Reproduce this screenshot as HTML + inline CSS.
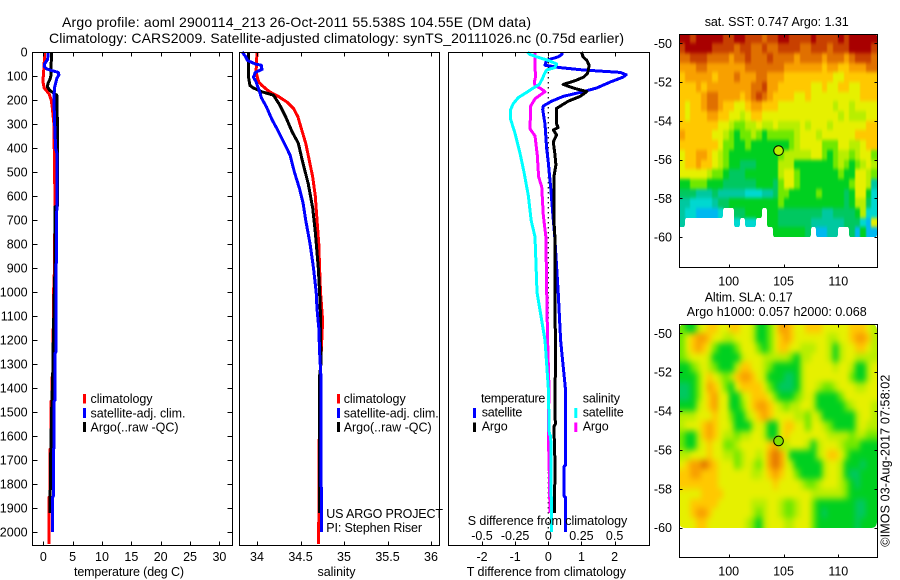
<!DOCTYPE html>
<html>
<head>
<meta charset="utf-8">
<title>Argo profile</title>
<style>
html,body{margin:0;padding:0;background:#fff}
svg{display:block}
text{font-family:"Liberation Sans",sans-serif;font-size:12.5px;fill:#000}
.t14{font-size:14px}
</style>
</head>
<body>
<svg id="chart" width="900" height="580" viewBox="0 0 900 580" xmlns="http://www.w3.org/2000/svg">
<defs>
<filter id="soft-sst" filterUnits="userSpaceOnUse" x="660" y="20" width="230" height="260" color-interpolation-filters="sRGB">
<feGaussianBlur stdDeviation="0.9 1.8"/>
<feComponentTransfer><feFuncA type="linear" slope="20" intercept="-9.5"/></feComponentTransfer>
</filter>
<filter id="soft-sla" filterUnits="userSpaceOnUse" x="660" y="310" width="230" height="240" color-interpolation-filters="sRGB">
<feGaussianBlur stdDeviation="2.6 3.2"/>
<feComponentTransfer><feFuncA type="linear" slope="20" intercept="-9.5"/></feComponentTransfer>
</filter>
<clipPath id="clip-sst"><rect x="679" y="34" width="198" height="233"/></clipPath>
<clipPath id="clip-sla"><rect x="679" y="324" width="198" height="233"/></clipPath>
</defs>
<rect width="900" height="580" fill="#fff"/>
<text class="t14" x="62" y="27" textLength="469">Argo profile: aoml 2900114_213 26-Oct-2011 55.538S 104.55E (DM data)</text>
<text class="t14" x="49" y="43" textLength="575">Climatology: CARS2009. Satellite-adjusted climatology: synTS_20111026.nc (0.75d earlier)</text>
<g id="marks"></g>

<text x="74" y="576" textLength="110">temperature (deg C)</text>
<text x="317.5" y="576" textLength="38">salinity</text>
<text x="466.7" y="576" textLength="159.3">T difference from climatology</text>
<text x="467.7" y="525" textLength="159.6">S difference from climatology</text>

<g>
<rect x="83" y="394" width="3" height="9.5" fill="#f00"/>
<text x="90.5" y="403" textLength="62">climatology</text>
<rect x="83" y="408" width="3" height="10" fill="#00f"/>
<text x="90.5" y="417.3" textLength="95">satellite-adj. clim.</text>
<rect x="83" y="422" width="3" height="10" fill="#000"/>
<text x="90.5" y="431.5" textLength="88">Argo(..raw -QC)</text>
</g>
<g>
<rect x="337" y="394" width="3" height="9.5" fill="#f00"/>
<text x="343.7" y="403" textLength="62">climatology</text>
<rect x="337" y="408" width="3" height="10" fill="#00f"/>
<text x="343.7" y="417.3" textLength="95">satellite-adj. clim.</text>
<rect x="337" y="422" width="3" height="10" fill="#000"/>
<text x="343.7" y="431.5" textLength="88">Argo(..raw -QC)</text>
</g>
<text x="326.3" y="518" textLength="116.7">US ARGO PROJECT</text>
<text x="326.3" y="532" textLength="95.7">PI: Stephen Riser</text>

<g>
<text x="481" y="402.7" textLength="64.3">temperature</text>
<text x="582.7" y="402.7" textLength="37.3">salinity</text>
<rect x="473" y="408" width="3" height="10" fill="#00f"/>
<text x="481.7" y="416.7" textLength="40.6">satellite</text>
<rect x="473" y="422.5" width="3" height="9.5" fill="#000"/>
<text x="481.7" y="430.7" textLength="26">Argo</text>
<rect x="574.3" y="408" width="3" height="10" fill="#0ff"/>
<text x="582.7" y="416.7" textLength="41">satellite</text>
<rect x="574.3" y="422.5" width="3" height="9.5" fill="#f0f"/>
<text x="582.7" y="430.7" textLength="26">Argo</text>
</g>

<text x="704.7" y="26" textLength="144">sat. SST: 0.747  Argo: 1.31</text>
<text x="704.7" y="301.7" textLength="88">Altim. SLA: 0.17</text>
<text x="686.7" y="316" textLength="180">Argo h1000: 0.057 h2000: 0.068</text>
<text transform="translate(889.5 546.7) rotate(-90)" x="0" y="0" textLength="172">©IMOS 03-Aug-2017 07:58:02</text>
</svg>

<script>
// ---------- profile data ----------
const depthTicks = [0,100,200,300,400,500,600,700,800,900,1000,1100,1200,1300,1400,1500,1600,1700,1800,1900,2000];
const tempTicks = [0,5,10,15,20,25,30];
const salTicks = [34,34.5,35,35.5,36];
const salTickLabels = ["34","34.5","35","35.5","36"];
const tDiffTicks = [-2,-1,0,1,2];
const sDiffTicks = [-0.5,-0.25,0,0.25,0.5];
const sDiffTickLabels = ["-0.5","-0.25","0","0.25","0.5"];

const tempClimDepth = [0,50,100,125,150,175,200,225,300,620,900,1000,1150,1155,1350,1355,1450,1455,1650,1655,1850,1855,2050];
const tempClim = [0.2,0.15,0,-0.05,0.15,1,1.35,1.5,1.8,2.0,1.9,1.76,1.76,1.65,1.65,1.48,1.48,1.3,1.3,1.14,1.14,0.97,0.97];
const tempArgoDepth = [0,100,115,130,145,160,180,300,400,640,645,900,1000,1200,1350,1500,1700,1920];
const tempArgo = [1.4,1.3,1.1,0.8,0.7,1.1,2.3,2.4,2.4,2.4,2.0,2.0,1.87,1.7,1.6,1.42,1.25,1.14];
const tempSatDepth = [0,30,50,60,70,75,85,95,110,150,190,280,400,420,640,800,1000,1250,1255,1450,1455,1650,1655,1850,1855,2000];
const tempSat = [0.8,0.75,0.2,0.15,0.55,1.1,2.55,2.65,2.3,1.9,1.8,1.9,2.1,2.3,2.3,2.25,2.15,2.15,2,2,1.8,1.8,1.7,1.7,1.55,1.55];

const salClimDepth = [0,80,100,125,140,165,185,210,235,270,320,380,450,520,600,700,800,900,1000,1100,1150,1400,1650,1700,1950,2050];
const salClim = [34,33.99,34,34.02,34.06,34.14,34.245,34.35,34.42,34.47,34.51,34.56,34.6,34.64,34.67,34.69,34.71,34.72,34.73,34.75,34.75,34.72,34.715,34.71,34.71,34.705];
const salArgoDepth = [0,50,100,140,150,165,180,220,270,330,380,450,550,650,750,900,1000,1100,1300,1350,1920];
const salArgo = [33.9,33.9,33.9,33.92,33.96,34.05,34.19,34.26,34.33,34.4,34.475,34.52,34.59,34.64,34.67,34.705,34.72,34.73,34.735,34.72,34.72];
const salSatDepth = [0,20,35,50,55,65,72,85,105,125,165,190,230,280,320,370,430,500,570,630,700,800,900,1000,1070,1150,1250,1350,2000];
const salSat = [33.83,33.87,33.89,33.98,34.05,34.05,34.06,33.98,33.96,33.99,34.03,34.05,34.11,34.17,34.23,34.3,34.38,34.43,34.49,34.53,34.56,34.61,34.65,34.68,34.69,34.71,34.72,34.735,34.74];

const diffTSatDepth = [0,10,20,35,55,65,75,85,95,105,125,150,165,185,205,225,240,300,400,460,560,700,760,1000,1200,1415,1720,1725,1850,1855,2000];
const diffTSat = [0.42,0.41,0.3,-0.05,-0.1,0.35,1.06,2.17,2.35,2.25,1.87,1.46,1.06,0.45,0.1,-0.15,-0.17,-0.1,-0.05,0,0.07,0.15,0.19,0.3,0.37,0.525,0.525,0.48,0.48,0.525,0.525];
const diffTArgoDepth = [0,20,35,55,75,90,105,120,135,150,165,185,205,235,300,315,325,345,375,425,470,520,700,770,1000,1300,1415,1550,1560,1700,1920];
const diffTArgo = [1.0,1.05,1.16,1.23,1.21,1.18,1.06,0.8,0.45,0.75,1.16,0.96,0.6,0.25,0.25,0.3,0.15,0.25,0.15,0.2,0.23,0.17,0.17,0.2,0.2,0.22,0.2,0.21,0.17,0.2,0.19];
const diffSArgoDepth = [0,70,100,125,140,150,165,180,195,225,320,350,430,520,560,680,770,1000,1200,1400,1590,1800,1920];
const diffSArgo = [-0.1,-0.1,-0.095,-0.105,-0.1,-0.063,-0.025,-0.063,-0.1,-0.133,-0.138,-0.1,-0.083,-0.073,-0.05,-0.038,-0.018,-0.012,-0.005,0.005,0,0.01,0.012];
const diffSSatDepth = [0,10,20,35,50,65,75,95,110,135,150,170,190,215,240,280,340,420,500,600,700,770,1000,1200,1400,1590,1600,1700,1850,1855,2000];
const diffSSat = [-0.156,-0.14,-0.088,0,0.063,0.05,-0.013,-0.033,-0.043,-0.068,-0.113,-0.168,-0.226,-0.264,-0.284,-0.284,-0.25,-0.214,-0.183,-0.15,-0.13,-0.1,-0.085,-0.025,0,0.0075,0.018,0.02,0.02,0.025,0.025];

// ---------- map data (colour levels, null = no data) ----------
const n = null;
const lonTicks = [100,105,110];
const latTicks = [50,52,54,56,58,60];
const profileLon = 104.55;
const profileLat = 55.538;
const sstLevels = [
[12,12,11,12,12,12,12,12,11,11,12,12,11,11,11,10,11,11,12,12,11,11,11,11,12,11,11,11,11,12,11,12,12,12,12,12],
[11,12,12,12,12,12,11,11,11,11,10,11,11,10,10,11,10,10,11,11,11,11,10,10,11,11,11,10,11,11,11,12,12,12,12,11],
[10,10,11,11,11,10,10,10,10,9,10,10,11,10,10,10,11,10,10,10,10,9,10,10,10,10,9,10,10,10,9,10,11,11,11,10],
[9,9,9,10,10,9,9,9,9,9,9,9,10,10,10,10,10,10,10,9,9,9,9,9,9,9,8,9,9,8,8,9,9,9,10,10],
[8,9,9,9,9,9,8,9,9,9,10,9,9,9,10,10,9,9,9,8,8,8,8,8,8,8,8,8,7,7,8,8,8,8,8,8],
[8,8,8,9,8,9,9,9,9,9,9,9,9,10,10,11,9,9,8,8,8,8,8,8,7,7,8,7,7,8,8,7,7,8,8,8],
[8,8,8,8,9,10,10,9,9,9,9,8,9,10,11,10,9,8,8,8,8,7,7,8,7,7,7,7,7,7,7,7,7,8,8,8],
[8,7,8,8,9,10,10,9,8,8,7,7,8,9,9,8,8,8,7,7,7,7,7,7,7,7,7,7,6,7,7,6,7,7,7,7],
[8,7,8,8,8,9,9,8,8,7,7,6,7,8,8,7,7,7,7,7,7,7,7,7,7,7,7,7,7,6,7,6,6,6,7,7],
[8,8,8,8,8,8,8,7,7,6,5,5,6,6,7,6,6,7,6,6,6,6,7,6,7,7,7,6,7,7,7,7,7,7,8,8],
[9,8,8,8,8,8,7,7,6,5,4,5,5,6,5,4,5,5,5,5,5,6,7,7,7,6,7,7,7,7,7,7,8,8,8,8],
[8,8,8,8,8,8,8,7,5,5,4,4,5,4,4,4,4,4,4,4,5,6,7,7,7,7,5,5,5,7,7,6,6,7,8,8],
[7,8,8,9,9,8,7,6,5,4,4,4,4,4,4,4,4,4,5,6,6,6,6,6,7,7,5,4,5,6,6,5,6,7,7,5],
[7,8,8,9,8,8,7,6,5,4,4,3,3,3,4,4,4,4,6,6,6,4,4,4,4,4,4,4,5,6,5,4,5,6,7,6],
[7,7,7,7,7,6,5,5,4,3,3,3,4,4,4,4,4,4,6,7,7,5,4,4,4,4,4,4,4,5,4,4,7,7,6,5],
[4,4,5,5,5,4,4,4,3,3,3,3,3,3,4,4,4,3,5,7,7,5,4,4,4,4,4,4,4,4,4,5,7,7,6,2],
[3,3,3,2,2,2,3,2,2,2,2,2,1,1,1,2,2,3,5,5,4,4,4,4,4,5,4,4,4,4,3,4,7,7,4,1],
[2,2,1,1,1,1,2,3,3,4,4,4,4,4,4,4,4,4,5,4,4,4,4,4,4,4,4,4,4,4,3,4,6,6,3,1],
[2,1,1,0,0,0,0,1,n,n,3,3,4,4,4,n,4,4,3,3,3,3,3,3,3,3,2,2,3,3,3,3,4,6,1,1],
[2,n,n,n,n,n,n,n,n,n,1,n,1,1,n,n,4,4,3,3,3,3,3,3,2,2,2,2,2,2,3,3,3,1,0,7],
[n,n,n,n,n,n,n,n,n,n,n,n,n,n,n,n,n,4,4,4,4,4,4,3,n,0,0,2,2,n,n,3,0,4,0,0]
];
const slaLevels = [
[5,4,4,6,7,8,8,7,7,8,8,7,7,6,4,4,5,7,9,9,8,7,7,8,8,8,7,7,7,7,7,8,8,8,7,6],
[5,7,8,9,9,8,7,7,6,6,7,7,7,6,4,4,5,7,8,9,8,7,7,7,7,7,7,6,6,7,7,8,9,9,8,6],
[5,7,8,9,8,7,5,4,4,4,5,7,7,7,5,4,5,7,8,8,7,7,6,6,6,7,7,6,4,6,7,7,8,8,7,6],
[5,6,7,7,7,6,4,4,4,4,4,6,7,7,7,6,6,6,6,6,5,4,6,6,7,7,7,6,4,6,7,7,6,6,6,6],
[4,4,5,6,7,6,5,4,4,4,6,8,8,7,7,6,5,4,4,4,4,4,6,7,7,7,7,7,6,7,7,6,4,4,6,7],
[4,4,4,5,7,8,7,6,5,6,8,9,9,8,7,6,4,4,4,3,3,4,6,7,7,7,7,7,7,7,7,5,4,4,6,7],
[3,3,4,5,7,9,8,7,5,4,7,8,8,8,8,7,5,4,3,3,3,4,6,7,7,6,5,5,6,7,7,7,6,6,7,7],
[3,3,4,5,7,8,9,7,7,4,4,6,7,8,8,8,7,5,4,4,4,5,6,7,6,4,4,4,4,5,7,7,7,7,7,7],
[4,4,4,6,7,8,9,7,7,4,4,5,7,8,9,9,8,7,6,5,6,6,7,7,6,4,4,4,4,4,5,6,7,7,7,6],
[6,6,6,7,7,7,8,7,7,5,4,4,6,7,8,9,8,7,7,7,7,6,6,5,7,6,4,4,4,4,4,4,6,7,7,6],
[6,7,7,7,8,9,8,7,7,6,4,4,4,6,7,6,4,4,7,8,8,7,7,5,7,7,6,5,4,4,4,4,6,7,6,6],
[5,4,4,6,8,9,8,7,6,6,5,6,6,7,7,6,4,4,7,8,7,7,7,7,7,7,7,6,6,6,6,5,6,6,5,5],
[5,4,4,6,7,8,7,7,5,5,6,7,7,7,7,7,8,9,6,6,7,7,7,6,4,6,7,7,7,6,5,5,5,4,4,4],
[6,6,7,7,7,8,7,7,6,6,5,6,7,7,6,7,9,10,9,7,4,4,4,4,4,6,7,8,8,7,5,4,4,4,4,4],
[7,8,9,9,10,9,8,7,7,7,5,6,7,6,5,7,9,10,9,7,6,4,4,4,4,4,6,7,7,6,4,4,4,3,4,4],
[8,8,9,9,8,8,8,7,7,7,7,7,7,6,6,7,8,9,8,7,7,5,4,4,4,4,6,7,7,6,4,3,3,4,4,4],
[8,8,8,8,8,8,8,7,7,7,7,7,7,7,7,7,7,8,7,7,7,7,6,5,5,6,7,7,7,6,5,4,3,4,4,4],
[7,7,7,7,8,8,8,8,7,7,7,7,7,7,7,7,7,7,7,7,7,7,7,7,6,6,6,6,6,6,5,4,4,4,4,4],
[7,7,8,8,8,8,8,7,7,7,7,7,7,6,6,6,7,7,6,5,5,6,7,7,5,4,4,4,4,4,4,4,3,3,4,4],
[7,7,8,9,9,8,7,7,7,7,7,7,7,6,5,6,7,7,6,5,5,6,7,7,5,4,3,4,4,4,4,4,3,3,4,4],
[7,7,7,8,8,7,7,7,7,7,7,7,6,5,4,6,7,7,7,6,6,7,7,7,5,4,4,4,4,4,4,4,3,4,4,4]
];

// ---------- colour scale & axis functions ----------
const levelColors = ["#00b8f0","#00d8d0","#00c8a0","#00c860","#00d020","#70e800","#b8ee00","#e6f000","#ffc800","#f8a000","#e07000","#c84000","#a80000"];
const PANEL_TOP = 52, PANEL_BOTTOM = 545;
const yDepth = d => 52 + 0.2401 * d;
const xTemp = v => 43.3 + 5.87 * v;
const xSal = v => 257 + 87 * (v - 34);
const xTDiff = v => 548.3 + 33.15 * v;
const xSDiff = v => 548.3 + 132.6 * v;
const xLon = v => 728.7 + 10.96 * (v - 100);
const ySstLat = v => 43.3 + 19.37 * (v - 50);
const ySlaLat = v => 333.3 + 19.44 * (v - 50);

const NS = "http://www.w3.org/2000/svg";
const marks = document.getElementById("marks");
function make(tag, attrs, parent) {
  const el = document.createElementNS(NS, tag);
  for (const k in attrs) el.setAttribute(k, attrs[k]);
  (parent || marks).appendChild(el);
  return el;
}
function rule(x1, y1, x2, y2, name, parent) {
  const el = make("line", {x1: Math.round(x1) + 0.5, y1: Math.round(y1) + 0.5, x2: Math.round(x2) + 0.5, y2: Math.round(y2) + 0.5, stroke: "#000", "stroke-width": 1, "shape-rendering": "crispEdges"}, parent);
  
  
  return el;
}
function label(x, y, txt, anchor, name, parent) {
  const el = make("text", {x: x, y: y, "text-anchor": anchor}, parent);
  el.textContent = txt;
  
  
  return el;
}
function axesBox(l, t, r, b, name) {
  const el = make("rect", {x: Math.round(l) + 0.5, y: Math.round(t) + 0.5, width: Math.round(r) - Math.round(l), height: Math.round(b) - Math.round(t), fill: "none", stroke: "#000", "stroke-width": 1, "shape-rendering": "crispEdges"});
  
  
  return el;
}
function series(xs, depths, xFn, color, width, name) {
  const pts = xs.map((v, i) => xFn(v).toFixed(1) + "," + yDepth(depths[i]).toFixed(1)).join(" ");
  const el = make("polyline", {points: pts, fill: "none", stroke: color, "stroke-width": width, "stroke-linejoin": "round", "shape-rendering": "crispEdges"});
  
  
  return el;
}

// ---------- temperature panel ----------
series(tempClim, tempClimDepth, xTemp, "#f00", 3, "temperature-climatology-line");
series(tempArgo, tempArgoDepth, xTemp, "#000", 3, "temperature-argo-line");
series(tempSat, tempSatDepth, xTemp, "#00f", 3, "temperature-satellite-line");
axesBox(32, PANEL_TOP, 232, PANEL_BOTTOM, "temperature-axes-frame");
depthTicks.forEach(d => {
  rule(32, yDepth(d), 37, yDepth(d), "depth-tick-left");
  rule(227, yDepth(d), 232, yDepth(d), "depth-tick-right");
  label(27.6, yDepth(d) + 4.5, String(d), "end", "depth-tick-label");
});
tempTicks.forEach(v => {
  rule(xTemp(v), PANEL_TOP, xTemp(v), PANEL_TOP + 4, "temperature-tick-top");
  rule(xTemp(v), PANEL_BOTTOM - 4, xTemp(v), PANEL_BOTTOM, "temperature-tick-bottom");
  label(xTemp(v), 561, String(v), "middle", "temperature-tick-label");
});

// ---------- salinity panel ----------
series(salClim, salClimDepth, xSal, "#f00", 3, "salinity-climatology-line");
series(salArgo, salArgoDepth, xSal, "#000", 3, "salinity-argo-line");
series(salSat, salSatDepth, xSal, "#00f", 3, "salinity-satellite-line");
axesBox(239, PANEL_TOP, 439, PANEL_BOTTOM, "salinity-axes-frame");
salTicks.forEach((v, i) => {
  rule(xSal(v), PANEL_TOP, xSal(v), PANEL_TOP + 4, "salinity-tick-top");
  rule(xSal(v), PANEL_BOTTOM - 4, xSal(v), PANEL_BOTTOM, "salinity-tick-bottom");
  label(xSal(v), 561, salTickLabels[i], "middle", "salinity-tick-label");
});

// ---------- difference panel ----------
const zeroLine = make("line", {x1: xTDiff(0), y1: PANEL_TOP, x2: xTDiff(0), y2: yDepth(2000), stroke: "#000", "stroke-width": 1.2, "stroke-dasharray": "1.5 3.5"});


series(diffTSat, diffTSatDepth, xTDiff, "#00f", 3, "t-difference-satellite-line");
series(diffTArgo, diffTArgoDepth, xTDiff, "#000", 3, "t-difference-argo-line");
series(diffSArgo, diffSArgoDepth, xSDiff, "#f0f", 3, "s-difference-argo-line");
series(diffSSat, diffSSatDepth, xSDiff, "#0ff", 3, "s-difference-satellite-line");
axesBox(448, PANEL_TOP, 649, PANEL_BOTTOM, "difference-axes-frame");
tDiffTicks.forEach(v => {
  rule(xTDiff(v), PANEL_TOP, xTDiff(v), PANEL_TOP + 4, "t-difference-tick-top");
  rule(xTDiff(v), PANEL_BOTTOM - 4, xTDiff(v), PANEL_BOTTOM, "t-difference-tick-bottom");
  label(xTDiff(v), 561, String(v), "middle", "t-difference-tick-label");
});
sDiffTicks.forEach((v, i) => {
  label(xSDiff(v), 540, sDiffTickLabels[i], "middle", "s-difference-tick-label");
});

// ---------- maps ----------
function drawMap(levels, yLat, mapName, top, bottom, markerColor, filterId, clipId) {
  const clip = make("g", {"clip-path": "url(#" + clipId + ")"});
  
  
  const image = make("g", {filter: "url(#" + filterId + ")"}, clip);
  
  
  levels.forEach((row, r) => {
    row.forEach((lvl, c) => {
      if (lvl === null) return;
      const x0 = Math.round(xLon(95.5 + 0.5 * c));
      const x1 = Math.round(xLon(96 + 0.5 * c));
      const y0 = Math.round(yLat(49.5 + 0.5 * r));
      const y1 = Math.round(yLat(50 + 0.5 * r));
      const cell = make("rect", {x: x0, y: y0, width: x1 - x0, height: y1 - y0, fill: levelColors[lvl], "shape-rendering": "crispEdges"}, image);
      
      
    });
  });
  axesBox(679, top, 877, bottom, mapName + "-axes-frame");
  latTicks.forEach(lat => {
    rule(679, yLat(lat), 682, yLat(lat), mapName + "-lat-tick-left");
    rule(874, yLat(lat), 877, yLat(lat), mapName + "-lat-tick-right");
    label(672, yLat(lat) + 4.5, "-" + lat, "end", mapName + "-lat-tick-label");
  });
  lonTicks.forEach(lon => {
    rule(xLon(lon), top, xLon(lon), top + 3, mapName + "-lon-tick-top");
    rule(xLon(lon), bottom - 3, xLon(lon), bottom, mapName + "-lon-tick-bottom");
    label(xLon(lon), bottom + 18.3, String(lon), "middle", mapName + "-lon-tick-label");
  });
  const dot = make("circle", {cx: xLon(profileLon), cy: yLat(profileLat), r: 4.8, fill: markerColor, stroke: "#000", "stroke-width": 1});
  
  
}
drawMap(sstLevels, ySstLat, "sst-map", 34, 267, "#b8f000", "soft-sst", "clip-sst");
drawMap(slaLevels, ySlaLat, "sla-map", 324, 557, "#80e000", "soft-sla", "clip-sla");
</script>
</body>
</html>
